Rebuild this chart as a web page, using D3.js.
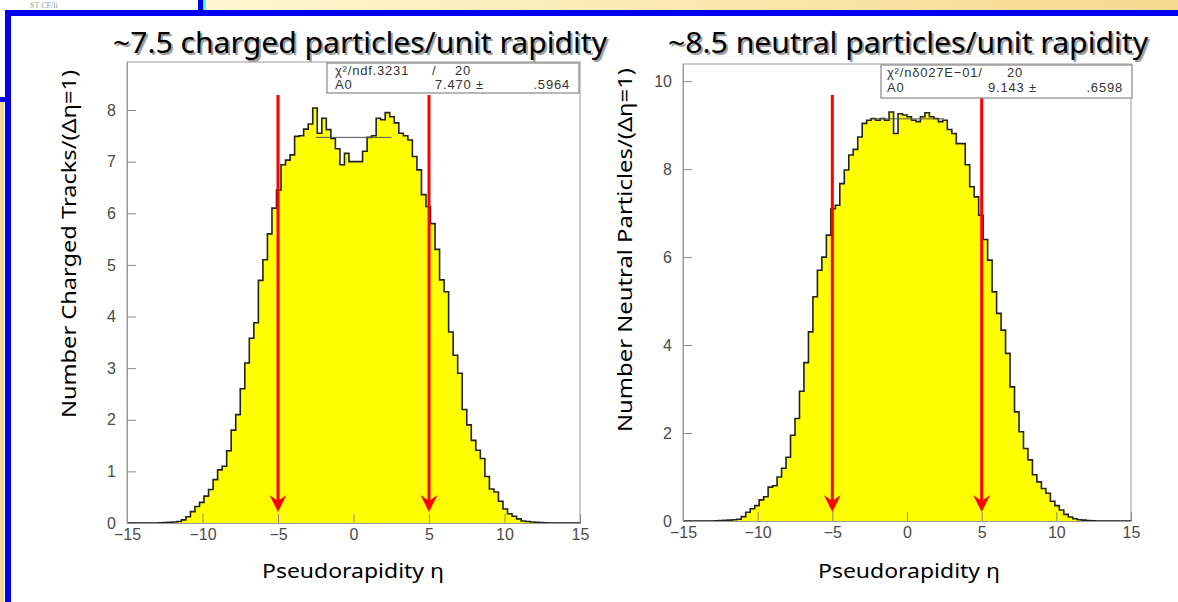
<!DOCTYPE html>
<html>
<head>
<meta charset="utf-8">
<script src="https://cdn.jsdelivr.net/npm/d3@7"></script>
<style>
  body { margin: 0; background: #fff; }
  svg { display: block; }
</style>
</head>
<body>
<div id="chart"></div>
<script>
// ---- data ----
var etaRange = [-15, 15];
var binWidth = 0.3; // 100 bins

var chargedCounts = [
  0, 0, 0, 0, 0, 0, 0, 0.005, 0.01, 0.015,
  0.02, 0.03, 0.06, 0.12, 0.22, 0.32, 0.4, 0.52, 0.65, 0.84,
  1.03, 1.1, 1.4, 1.8, 2.1, 2.6, 3.1, 3.58, 3.88, 4.7,
  5.1, 5.6, 6.1, 6.45, 6.94, 7.03, 7.13, 7.49, 7.5, 7.63,
  7.73, 8.04, 7.55, 7.84, 7.62, 7.45, 7.25, 6.94, 7.16, 7.0,
  7.0, 7.0, 7.2, 7.47, 7.5, 7.84, 7.81, 7.95, 7.87, 7.75,
  7.55, 7.5, 7.42, 7.1, 6.84, 6.36, 6.13, 5.8, 5.3, 4.71,
  4.48, 3.7, 3.25, 2.9, 2.2, 1.9, 1.6, 1.41, 1.25, 0.9,
  0.66, 0.6, 0.42, 0.27, 0.18, 0.13, 0.08, 0.04, 0.03, 0.02,
  0.015, 0.01, 0.005, 0, 0, 0, 0, 0, 0, 0
];

var neutralCounts = [
  0, 0, 0, 0, 0, 0, 0, 0.005, 0.01, 0.015,
  0.02, 0.03, 0.04, 0.1, 0.2, 0.28, 0.35, 0.48, 0.55, 0.77,
  0.8, 1.0, 1.2, 1.45, 1.95, 2.33, 2.95, 3.6, 4.3, 5.1,
  5.7, 6.0, 6.5, 7.1, 7.18, 7.67, 7.98, 8.32, 8.45, 8.73,
  9.04, 9.11, 9.15, 9.11, 9.15, 9.11, 9.3, 8.81, 9.26, 9.23,
  9.19, 9.11, 9.08, 9.19, 9.28, 9.19, 9.15, 9.08, 9.11, 8.9,
  8.81, 8.58, 8.58, 8.1, 7.6, 7.37, 6.95, 6.4, 5.93, 5.21,
  4.72, 4.34, 3.81, 3.05, 2.48, 2.03, 1.65, 1.39, 1.05, 0.89,
  0.74, 0.63, 0.45, 0.35, 0.25, 0.15, 0.09, 0.05, 0.03, 0.02,
  0.01, 0.005, 0, 0, 0, 0, 0, 0, 0, 0
];

var etaTicks = [-15, -10, -5, 0, 5, 10, 15];
var chargedTicks = [0, 1, 2, 3, 4, 5, 6, 7, 8];
var neutralTicks = [0, 2, 4, 6, 8, 10];
var cutEta = [-5, 5];
var fitRange = [-2.5, 2.5];
var fitA0 = [7.470, 9.143];
var chargedFitText = ["χ²/ndf.3231", "/", "20", "A0", "7.470 ±", ".5964"];
var neutralFitText = ["χ²/nδ027E−01/", "", "20", "A0", "9.143 ±", ".6598"];
var titles = ["~7.5 charged particles/unit rapidity", "~8.5 neutral particles/unit rapidity"];
var yTitles = ["Number Charged Tracks/(Δη=1)", "Number Neutral Particles/(Δη=1)"];
var xTitle = "Pseudorapidity η";

// ---- page ----
var W = 1178, H = 602;
var comic = "'Comic Sans MS', 'Noto Sans', sans-serif";
var helv = "'Liberation Sans', Arial, sans-serif";

var svg = d3.select("#chart").append("svg")
    .attr("width", W)
    .attr("height", H);

// slide decoration
var grad = svg.append("defs").append("linearGradient")
    .attr("id", "band").attr("x1", 0).attr("x2", 1);
grad.append("stop").attr("offset", 0).attr("stop-color", "#fff7d0");
grad.append("stop").attr("offset", 1).attr("stop-color", "#f7d88e");

svg.append("rect").attr("x", 206).attr("y", 0).attr("width", W - 206).attr("height", 11).attr("fill", "url(#band)");
svg.append("rect").attr("x", 198).attr("y", 0).attr("width", 5).attr("height", 12).attr("fill", "#0000ee");
svg.append("rect").attr("x", 203).attr("y", 0).attr("width", 3).attr("height", 12).attr("fill", "#44ffff");
svg.append("rect").attr("x", 5).attr("y", 10).attr("width", W - 5).attr("height", 6).attr("fill", "#0000ee");
svg.append("rect").attr("x", 5).attr("y", 10).attr("width", 6).attr("height", H - 10).attr("fill", "#0000ee");
svg.append("rect").attr("x", 0).attr("y", 102).attr("width", 4).attr("height", H - 102).attr("fill", "#f5d48c");
svg.append("rect").attr("x", 0).attr("y", 97).attr("width", 8).attr("height", 5).attr("fill", "#0000ee");
svg.append("text")
    .attr("x", 30).attr("y", 8)
    .attr("font-family", "'Liberation Serif', serif")
    .attr("font-size", 8)
    .attr("fill", "#999")
    .text("ST CF/li");

var panels = [
  { counts: chargedCounts, ticks: chargedTicks, minorStep: 0.2, yMax: 8.93,
    left: 127, right: 580, top: 62, bottom: 523, fit: fitA0[0], fitText: chargedFitText,
    box: { x: 327, y: 63, w: 252, h: 30, cols: [8, 105, 128, 8, 108, 243], base: [12, 26] },
    title: titles[0], titleX: 113, titleLen: 494,
    yTitle: yTitles[0], yTitleX: 76, yTitleY: 244, yTitleLen: 348,
    xTitleX: 353, xTitleLen: 182, arrowTop: 95, arrowTip: 512 },
  { counts: neutralCounts, ticks: neutralTicks, minorStep: 0.5, yMax: 10.39,
    left: 683, right: 1131, top: 64, bottom: 521, fit: fitA0[1], fitText: neutralFitText,
    box: { x: 881, y: 65, w: 251, h: 33, cols: [6, 110, 126, 6, 107, 242], base: [12, 27] },
    title: titles[1], titleX: 668, titleLen: 480,
    yTitle: yTitles[1], yTitleX: 632, yTitleY: 250, yTitleLen: 364,
    xTitleX: 909, xTitleLen: 182, arrowTop: 95, arrowTip: 512 }
];

panels.forEach(drawPanel);

function drawPanel(p) {
    var x = d3.scaleLinear().domain(etaRange).range([p.left, p.right]);
    var y = d3.scaleLinear().domain([0, p.yMax]).range([p.bottom, p.top]);
    var g = svg.append("g");

    // frame
    g.append("rect")
        .attr("x", p.left).attr("y", p.top)
        .attr("width", p.right - p.left).attr("height", p.bottom - p.top)
        .attr("fill", "#fff")
        .attr("stroke", "#999")
        .attr("stroke-width", 1);

    // histogram as a step outline
    var pts = [[x(etaRange[0]), y(0)]];
    p.counts.forEach(function(c, i) {
        var lo = etaRange[0] + i * binWidth;
        pts.push([x(lo), y(c)], [x(lo + binWidth), y(c)]);
    });
    pts.push([x(etaRange[1]), y(0)]);
    var line = d3.line();

    g.append("path")
        .attr("d", line(pts) + "Z")
        .attr("fill", "#ffff00");
    g.append("path")
        .attr("d", line(pts))
        .attr("fill", "none")
        .attr("stroke", "#222")
        .attr("stroke-width", 1.6);

    // fit line
    g.append("line")
        .attr("x1", x(fitRange[0])).attr("x2", x(fitRange[1]))
        .attr("y1", y(p.fit)).attr("y2", y(p.fit))
        .attr("stroke", "#555")
        .attr("stroke-width", 1);

    // axes, ticks pointing into the frame
    var xMinor = d3.range(etaRange[0], etaRange[1] + 0.5, 1);
    var yMinor = d3.range(0, p.yMax, p.minorStep);

    var xa = g.append("g").attr("transform", "translate(0," + p.bottom + ")");
    xa.call(d3.axisBottom(x).tickValues(xMinor).tickSize(-4).tickSizeOuter(0).tickFormat(""));
    xa.call(d3.axisBottom(x).tickValues(etaTicks).tickSize(-9).tickSizeOuter(0).tickPadding(6));

    var ya = g.append("g").attr("transform", "translate(" + p.left + ",0)");
    ya.call(d3.axisLeft(y).tickValues(yMinor).tickSize(-4).tickSizeOuter(0).tickFormat(""));
    ya.call(d3.axisLeft(y).tickValues(p.ticks).tickSize(-9).tickSizeOuter(0).tickPadding(11));

    g.selectAll(".domain").attr("stroke", "#999");
    g.selectAll(".tick line").attr("stroke", "#888");
    g.selectAll(".tick text")
        .attr("font-family", helv)
        .attr("font-size", 16)
        .attr("fill", "#4a4a4a");

    // red cut arrows
    cutEta.forEach(function(e) {
        var cx = x(e);
        g.append("line")
            .attr("x1", cx).attr("x2", cx)
            .attr("y1", p.arrowTop).attr("y2", p.arrowTip - 10)
            .attr("stroke", "#ff0000")
            .attr("stroke-width", 3);
        g.append("path")
            .attr("d", "M" + (cx - 8.5) + "," + (p.arrowTip - 17) +
                       "L" + cx + "," + (p.arrowTip - 11) +
                       "L" + (cx + 8.5) + "," + (p.arrowTip - 17) +
                       "L" + cx + "," + p.arrowTip + "Z")
            .attr("fill", "#ff0000");
    });

    // fit box
    var b = p.box;
    var bg = g.append("g").attr("transform", "translate(" + b.x + "," + b.y + ")");
    bg.append("rect")
        .attr("width", b.w).attr("height", b.h)
        .attr("fill", "#fff")
        .attr("stroke", "#888")
        .attr("stroke-width", 1.2);
    p.fitText.forEach(function(t, i) {
        bg.append("text")
            .attr("x", b.cols[i])
            .attr("y", i < 3 ? b.base[0] : b.base[1])
            .attr("font-family", helv)
            .attr("font-size", 13)
            .attr("letter-spacing", "0.8px")
            .attr("fill", "#333")
            .attr("text-anchor", i === 5 ? "end" : "start")
            .text(t);
    });

    // titles (with soft drop shadow)
    [["#a0a0a0", 2], ["#000", 0]].forEach(function(s) {
        svg.append("text")
            .attr("x", p.titleX + s[1]).attr("y", 53 + s[1])
            .attr("font-family", comic)
            .attr("font-size", 29)
            .attr("fill", s[0])
            .attr("textLength", p.titleLen)
            .attr("lengthAdjust", "spacingAndGlyphs")
            .text(p.title);
    });

    svg.append("text")
        .attr("transform", "translate(" + p.yTitleX + "," + p.yTitleY + ") rotate(-90)")
        .attr("text-anchor", "middle")
        .attr("font-family", comic)
        .attr("font-size", 20)
        .attr("fill", "#000")
        .attr("textLength", p.yTitleLen)
        .attr("lengthAdjust", "spacingAndGlyphs")
        .text(p.yTitle);

    svg.append("text")
        .attr("x", p.xTitleX).attr("y", 578)
        .attr("text-anchor", "middle")
        .attr("font-family", comic)
        .attr("font-size", 20)
        .attr("fill", "#000")
        .attr("textLength", p.xTitleLen)
        .attr("lengthAdjust", "spacingAndGlyphs")
        .text(xTitle);
}
</script>
</body>
</html>
